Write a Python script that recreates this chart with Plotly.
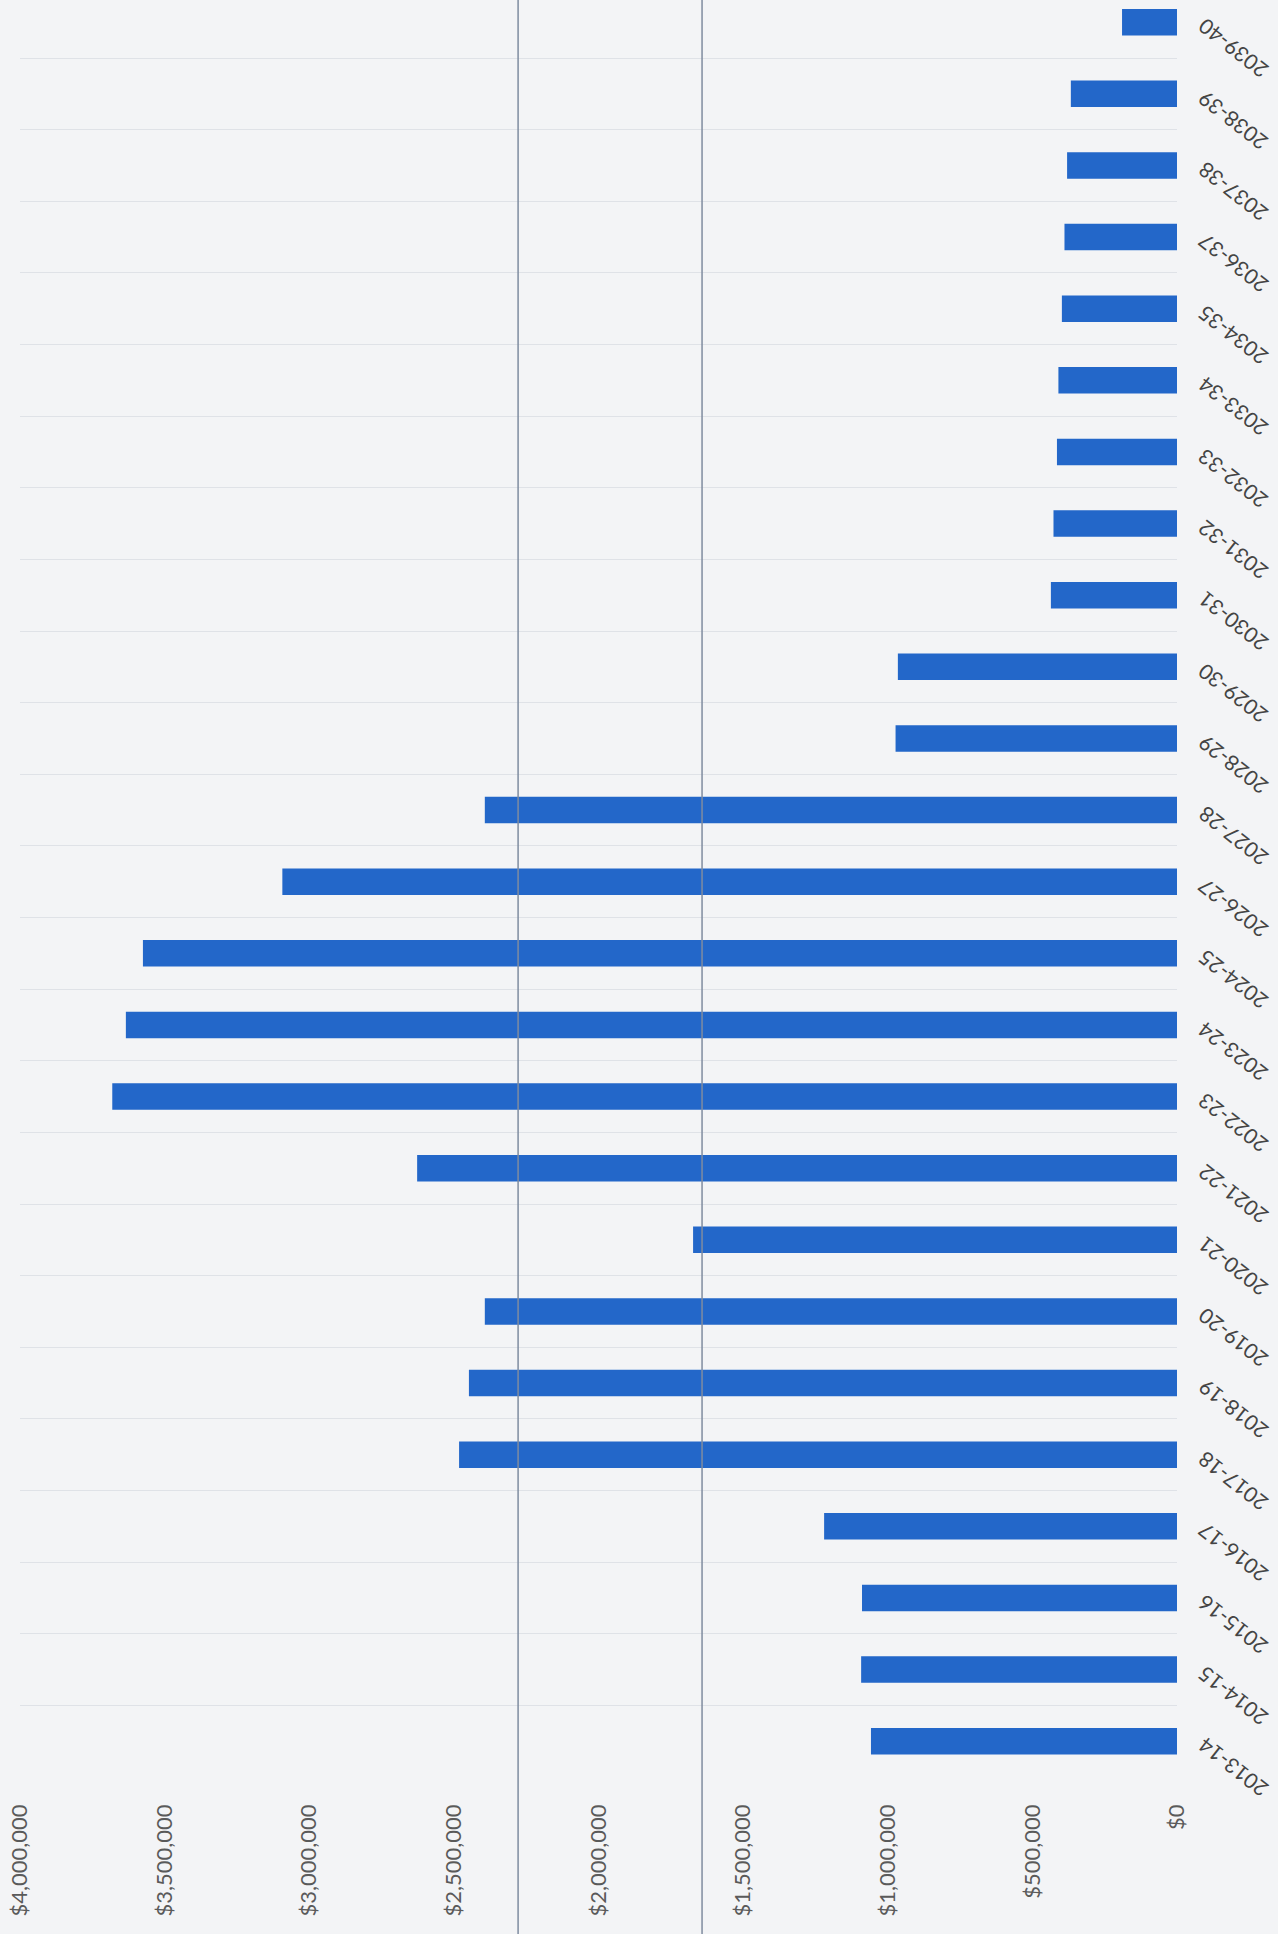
import plotly.graph_objects as go

categories = ["2013-14", "2014-15", "2015-16", "2016-17", "2017-18", "2018-19",
              "2019-20", "2020-21", "2021-22", "2022-23", "2023-24", "2024-25",
              "2026-27", "2027-28", "2028-29", "2029-30", "2030-31", "2031-32",
              "2032-33", "2033-34", "2034-35", "2036-37", "2037-38", "2038-39",
              "2039-40"]
values = [1058000, 1092000, 1089000, 1220000, 2482000, 2448000,
          2393000, 1673000, 2627000, 3681000, 3634000, 3575000,
          3093000, 2393000, 973000, 965000, 436000, 427000,
          415000, 410000, 398000, 389000, 380000, 367000,
          190000]
tick_values = [0, 500000, 1000000, 1500000, 2000000, 2500000, 3000000, 3500000, 4000000]
tick_labels = ["$0", "$500,000", "$1,000,000", "$1,500,000", "$2,000,000",
               "$2,500,000", "$3,000,000", "$3,500,000", "$4,000,000"]
artifact_lines = [2278000, 1642000]

positions = list(range(len(categories)))

fig = go.Figure()
fig.add_trace(go.Bar(
    x=values, y=positions, orientation="h",
    marker=dict(color="#2367c9", line=dict(width=0)),
    width=0.37,
))

for v in artifact_lines:
    fig.add_shape(type="line", xref="x", yref="paper", x0=v, x1=v, y0=-0.1, y1=1.0,
                  line=dict(color="#7f8ca0", width=1.5), layer="above")

# category labels (rotated, to the right of the plot)
for p, c in zip(positions, categories):
    fig.add_annotation(
        x=1, xref="paper", y=p, yref="y", text=c, showarrow=False,
        xanchor="center", yanchor="middle", xshift=56, yshift=-27,
        textangle=-142, borderpad=0, font=dict(size=21, color="#444444"),
    )

fig.update_layout(
    width=1278, height=1934,
    margin=dict(l=20, r=101, t=0, b=157),
    paper_bgcolor="#f3f4f6", plot_bgcolor="#f3f4f6",
    showlegend=False,
    font=dict(family="Lato, 'Open Sans', sans-serif", size=22, color="#5a5a5a"),
    xaxis=dict(
        range=[4000000, 0], tickvals=tick_values, ticktext=tick_labels,
        tickangle=-90, showgrid=False, zeroline=False, showline=False,
        ticks="", ticklabelstandoff=22,
        tickfont=dict(size=22, color="#5a5a5a"),
    ),
    yaxis=dict(
        range=[-0.5, 24.31], tickvals=positions, showticklabels=False,
        side="right", showgrid=False, zeroline=False,
        showline=False, ticks="",
        minor=dict(tick0=0.5, dtick=1, showgrid=True, gridcolor="#dfe2e7", gridwidth=1),
    ),
)

fig.write_html("out.html")
